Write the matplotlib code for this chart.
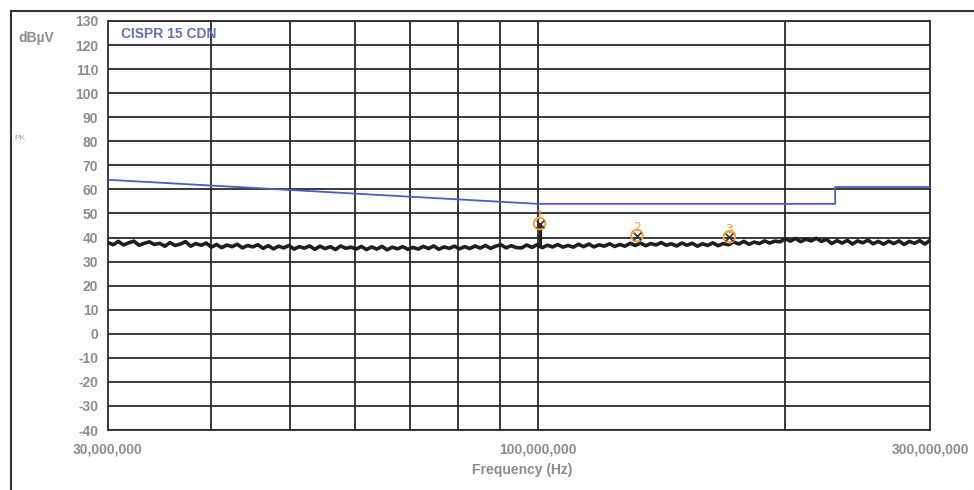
import numpy as np
import matplotlib
matplotlib.use("Agg")
import matplotlib.pyplot as plt
from matplotlib.lines import Line2D

# limit line (CISPR 15 CDN), MHz / dBuV
lim_freq = [30, 100, 230, 230, 300]
lim_level = [64, 54, 54, 61, 61]

# peak trace (dBuV)
noise = [
    37.9, 37.0, 38.4, 36.9, 37.8, 38.5, 36.8, 37.6, 38.2, 37.1,
    37.6, 36.4, 37.9, 36.7, 37.3, 38.3, 36.4, 37.5, 36.8, 37.7,
    36.0, 37.1, 35.8, 36.9, 36.2, 37.2, 35.7, 36.7, 36.1, 37.0,
    35.5, 36.6, 35.3, 36.4, 35.7, 36.7, 35.2, 36.2, 35.6, 36.5,
    35.1, 36.4, 35.4, 36.2, 35.0, 36.5, 35.5, 36.0, 35.2, 36.3,
    35.0, 36.1, 35.2, 36.3, 34.9, 36.0, 35.3, 36.2, 35.1, 35.9,
    35.2, 36.3, 35.4, 36.5, 35.1, 36.1, 35.5, 36.4, 35.3, 36.2,
    35.4, 36.5, 35.6, 36.7, 35.5, 36.4, 37.0, 35.7, 36.6, 35.8,
    35.7, 36.9, 35.9, 37.0, 35.8, 36.8, 36.1, 37.1, 36.0, 36.7,
    36.0, 37.2, 36.2, 37.3, 36.1, 37.0, 36.4, 37.4, 36.3, 37.1,
    36.4, 37.6, 36.7, 37.7, 36.6, 37.5, 36.9, 37.9, 36.8, 37.4,
    36.5, 37.7, 36.8, 37.6, 36.4, 37.4, 36.7, 37.8, 36.6, 37.5,
    37.0, 38.2, 37.3, 38.4, 37.2, 38.1, 37.5, 38.6, 37.7, 38.5,
    38.2, 39.5, 38.5, 39.6, 38.3, 39.3, 38.6, 39.7, 38.4, 39.2,
    37.5, 38.7, 37.7, 38.8, 37.3, 38.6, 37.8, 38.9, 37.4, 38.4,
    37.2, 38.5, 37.5, 38.6, 37.1, 38.4, 37.6, 38.7, 37.3, 38.8,
]
sweep = np.geomspace(30, 300, len(noise))

# marked peaks
peak_freq = [100.5, 132.0, 171.0]
peak_level = [45.8, 40.8, 40.3]
peak_names = ["1", "2", "3"]

yticks = list(range(-40, 131, 10))
xgrid = [40, 50, 60, 70, 80, 90, 100, 200]
xticks = [30, 100, 300]
xlabels = ["30,000,000", "100,000,000", "300,000,000"]

fig = plt.figure(figsize=(9.74, 4.9), dpi=100)
ax = fig.add_axes([108 / 974, 1 - 430 / 490, 822 / 974, 409 / 490])
ax.set_xscale("log")
ax.set_xlim(30, 300)
ax.set_ylim(-40, 130)

# grid
for y in yticks:
    ax.axhline(y, color="#2a2a2a", lw=1.3, zorder=1)
for x in xgrid:
    ax.axvline(x, color="#2a2a2a", lw=1.3, zorder=1)

ax.plot(lim_freq, lim_level, color="#4a5bc4", lw=1.3, zorder=3)
ax.plot(sweep, noise, color="#1e1e1e", lw=2.6, zorder=4)
ax.vlines(peak_freq[0], 36.5, peak_level[0], color="#1e1e1e", lw=2.2, zorder=4)

ax.scatter(peak_freq, peak_level, s=70, facecolors="none", edgecolors="#f0a030",
           linewidths=1.4, zorder=5)
ax.scatter(peak_freq, peak_level, s=30, marker="x", color="#333333",
           linewidths=1.2, zorder=6)
for f, lv, nm in zip(peak_freq, peak_level, peak_names):
    ax.text(f, lv + 3.2, nm, color="#f0a030", fontsize=9, ha="center", va="center",
            zorder=6)

tick_font = dict(family="Liberation Sans", weight="bold", color="#8c8c8c", size=10)
ax.set_yticks(yticks)
ax.set_yticklabels([str(v) for v in yticks], **tick_font)
ax.set_xticks(xticks)
ax.set_xticklabels(xlabels, **tick_font)
ax.minorticks_off()
ax.tick_params(axis="both", length=0)
ax.tick_params(axis="y", pad=7)
ax.tick_params(axis="x", pad=9)
for s in ax.spines.values():
    s.set_color("#2a2a2a")
    s.set_linewidth(1.3)

ax.text(0.016, 0.985, "CISPR 15 CDN", transform=ax.transAxes, ha="left", va="top",
        family="Liberation Sans", weight="bold", color="#6470b8", size=10)

fig.text(18 / 974, 1 - 38 / 490, "dBµV", family="Liberation Sans", weight="bold",
         color="#8c8c8c", size=10, va="center")
fig.text(14 / 974, 1 - 138 / 490, "PK", family="Liberation Sans",
         color="#a0a0a0", size=6, va="center")
fig.text(522 / 974, 1 - 470 / 490, "Frequency (Hz)", family="Liberation Sans",
         weight="bold", color="#8c8c8c", size=10, ha="center", va="center")

# outer frame of the printout
fig.add_artist(Line2D([11 / 974, 11 / 974], [0, 1 - 11 / 490], transform=fig.transFigure,
                      color="#333333", lw=1.5))
fig.add_artist(Line2D([11 / 974, 1], [1 - 11 / 490, 1 - 11 / 490], transform=fig.transFigure,
                      color="#333333", lw=1.5))

fig.savefig("out.png", dpi=100)
